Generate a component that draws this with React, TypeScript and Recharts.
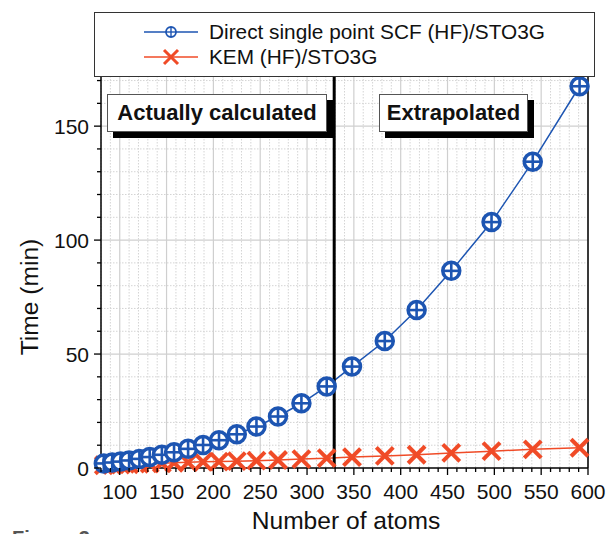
import React from 'react';
import { LineChart, Line, XAxis, YAxis, CartesianGrid, ReferenceLine } from 'recharts';

// atom counts and timings
const atoms = [83, 92, 101, 110, 121, 132, 145, 158, 173, 189, 206, 225, 246, 269, 294, 321, 348, 383, 417, 454, 497, 541, 591];
const scfTime = [2.0, 2.4, 2.8, 3.3, 4.0, 4.8, 5.8, 6.9, 8.4, 10.1, 12.2, 14.8, 18.2, 22.6, 28.4, 35.8, 44.5, 55.7, 69.3, 86.5, 107.9, 134.4, 167.5];
const kemTime = [1.2, 1.3, 1.5, 1.6, 1.8, 1.9, 2.1, 2.3, 2.5, 2.7, 2.8, 3.0, 3.2, 3.5, 3.9, 4.3, 4.8, 5.3, 5.8, 6.6, 7.4, 8.2, 8.9];

const xTicks = [80, 90, 100, 110, 120, 130, 140, 150, 160, 170, 180, 190, 200, 210, 220, 230, 240, 250, 260, 270, 280, 290, 300, 310, 320, 330, 340, 350, 360, 370, 380, 390, 400, 410, 420, 430, 440, 450, 460, 470, 480, 490, 500, 510, 520, 530, 540, 550, 560, 570, 580, 590, 600];
const yTicks = [0, 10, 20, 30, 40, 50, 60, 70, 80, 90, 100, 110, 120, 130, 140, 150, 160, 170];
const cutoff = 329;

const data = atoms.map((n, i) => ({ atoms: n, scf: scfTime[i], kem: kemTime[i] }));

const BLUE = '#1d55b2';
const RED = '#f04b27';
const FONT = '"Liberation Sans", Arial, sans-serif';

const BlueDot = (props: any) => {
  const { cx, cy, index } = props;
  if (cx == null || cy == null) return null;
  return (
    <g key={`b-${index}`}>
      <circle cx={cx} cy={cy} r={8.5} fill="#fff" stroke={BLUE} strokeWidth={3.5} />
      <line x1={cx - 8.5} y1={cy} x2={cx + 8.5} y2={cy} stroke={BLUE} strokeWidth={2.6} />
      <line x1={cx} y1={cy - 8.5} x2={cx} y2={cy + 8.5} stroke={BLUE} strokeWidth={2.6} />
    </g>
  );
};

const RedDot = (props: any) => {
  const { cx, cy, index } = props;
  if (cx == null || cy == null) return null;
  const s = 8.5;
  return (
    <g key={`r-${index}`}>
      <line x1={cx - s} y1={cy - s} x2={cx + s} y2={cy + s} stroke={RED} strokeWidth={4} />
      <line x1={cx - s} y1={cy + s} x2={cx + s} y2={cy - s} stroke={RED} strokeWidth={4} />
    </g>
  );
};

const XTick = (props: any) => {
  const { x, y, payload } = props;
  const major = payload.value % 50 === 0;
  return (
    <g>
      <line x1={x} y1={y} x2={x} y2={y + (major ? 7 : 4)} stroke="#000" strokeWidth={1.3} />
      {major && payload.value >= 100 && (
        <text x={x} y={y + 31} textAnchor="middle" fontSize={21} fontFamily={FONT} fill="#111">
          {payload.value}
        </text>
      )}
    </g>
  );
};

const YTick = (props: any) => {
  const { x, y, payload } = props;
  const major = payload.value % 50 === 0;
  return (
    <g>
      <line x1={x} y1={y} x2={x - (major ? 7 : 4)} y2={y} stroke="#000" strokeWidth={1.3} />
      {major && (
        <text x={x - 12} y={y + 7.5} textAnchor="end" fontSize={21} fontFamily={FONT} fill="#111">
          {payload.value}
        </text>
      )}
    </g>
  );
};

const scaleOf = (axis: any) => (v: number) => {
  const s = axis && axis.scale;
  if (typeof s === 'function') return s(v);
  if (s && typeof s.map === 'function') return s.map(v);
  return 0;
};

const minorX = xTicks.filter((v) => v % 50 !== 0);
const majorX = xTicks.filter((v) => v % 50 === 0);
const minorY = yTicks.filter((v) => v % 50 !== 0);
const majorY = yTicks.filter((v) => v % 50 === 0 && v > 0);

const Legend = () => (
  <div
    style={{
      position: 'absolute', left: 94, top: 12, width: 499, height: 63,
      border: '1.5px solid #333', background: '#fff', fontFamily: FONT, fontSize: 20.8, color: '#111',
    }}
  >
    <div style={{ position: 'absolute', left: 48, top: 7, display: 'flex', alignItems: 'center' }}>
      <svg width={56} height={18}>
        <line x1={1} y1={9} x2={55} y2={9} stroke={BLUE} strokeWidth={1.5} />
        <circle cx={28} cy={9} r={5} fill="#fff" stroke={BLUE} strokeWidth={1.8} />
        <line x1={23} y1={9} x2={33} y2={9} stroke={BLUE} strokeWidth={1.4} />
        <line x1={28} y1={4} x2={28} y2={14} stroke={BLUE} strokeWidth={1.4} />
      </svg>
      <span style={{ marginLeft: 10 }}>Direct single point SCF (HF)/STO3G</span>
    </div>
    <div style={{ position: 'absolute', left: 48, top: 32, display: 'flex', alignItems: 'center' }}>
      <svg width={56} height={18}>
        <line x1={1} y1={9} x2={55} y2={9} stroke={RED} strokeWidth={1.5} />
        <line x1={21} y1={2} x2={35} y2={16} stroke={RED} strokeWidth={3} />
        <line x1={21} y1={16} x2={35} y2={2} stroke={RED} strokeWidth={3} />
      </svg>
      <span style={{ marginLeft: 10 }}>KEM (HF)/STO3G</span>
    </div>
  </div>
);

const Tag = ({ left, width, text }: { left: number; width: number; text: string }) => (
  <div
    style={{
      position: 'absolute', left, top: 94, width, height: 38, boxSizing: 'border-box',
      border: '1.5px solid #555', background: '#fff', boxShadow: '6px 6px 0 #000',
      fontFamily: FONT, fontWeight: 'bold', fontSize: 22, color: '#111',
      display: 'flex', alignItems: 'center', justifyContent: 'center',
    }}
  >
    {text}
  </div>
);

export default function App() {
  return (
    <div style={{ position: 'absolute', left: 0, top: 0, width: 608, height: 534, overflow: 'hidden', background: '#fff' }}>
      <LineChart width={608} height={534} data={data} margin={{ top: 76, right: 20, bottom: 26, left: 0 }}>
        <CartesianGrid
          horizontal={true}
          vertical={true}
          stroke="#d4d4d4"
          strokeDasharray="1.5 1.5"
          verticalCoordinatesGenerator={(p: any) => minorX.map(scaleOf(p.xAxis))}
          horizontalCoordinatesGenerator={(p: any) => minorY.map(scaleOf(p.yAxis))}
        />
        <CartesianGrid
          horizontal={true}
          vertical={true}
          stroke="#cfcfcf"
          strokeWidth={1.2}
          verticalCoordinatesGenerator={(p: any) => majorX.map(scaleOf(p.xAxis))}
          horizontalCoordinatesGenerator={(p: any) => majorY.map(scaleOf(p.yAxis))}
        />
        <XAxis
          dataKey="atoms"
          type="number"
          domain={[80, 600]}
          ticks={xTicks}
          interval={0}
          tick={<XTick />}
          tickLine={false}
          tickSize={0}
          tickMargin={0}
          height={40}
          axisLine={{ stroke: '#000', strokeWidth: 1.5 }}
        />
        <YAxis
          type="number"
          domain={[0, 172]}
          ticks={yTicks}
          interval={0}
          tick={<YTick />}
          tickLine={false}
          tickSize={0}
          tickMargin={0}
          width={101}
          axisLine={{ stroke: '#000', strokeWidth: 1.5 }}
        />
        <ReferenceLine x={600} stroke="#000" strokeWidth={1.5} />
        <Line
          dataKey="kem"
          stroke={RED}
          strokeWidth={1.5}
          dot={RedDot}
          activeDot={false}
          isAnimationActive={false}
        />
        <Line
          dataKey="scf"
          stroke={BLUE}
          strokeWidth={1.5}
          dot={BlueDot}
          activeDot={false}
          isAnimationActive={false}
        />
        <ReferenceLine x={cutoff} stroke="#000" strokeWidth={3} />
      </LineChart>
      <Legend />
      <Tag left={107} width={220} text="Actually calculated" />
      <Tag left={379} width={149} text="Extrapolated" />
      <div
        style={{
          position: 'absolute', left: 30, top: 297, transform: 'translate(-50%, -50%) rotate(-90deg)',
          fontFamily: FONT, fontSize: 24.6, color: '#111', whiteSpace: 'nowrap',
        }}
      >
        Time (min)
      </div>
      <div
        style={{
          position: 'absolute', left: 346, top: 521, transform: 'translate(-50%, -50%)',
          fontFamily: FONT, fontSize: 24.6, color: '#111', whiteSpace: 'nowrap',
        }}
      >
        Number of atoms
      </div>
      <div
        style={{
          position: 'absolute', left: 12, top: 527, fontFamily: FONT, fontWeight: 'bold',
          fontSize: 20, color: '#555', whiteSpace: 'nowrap',
        }}
      >
        Figure 3
      </div>
    </div>
  );
}
